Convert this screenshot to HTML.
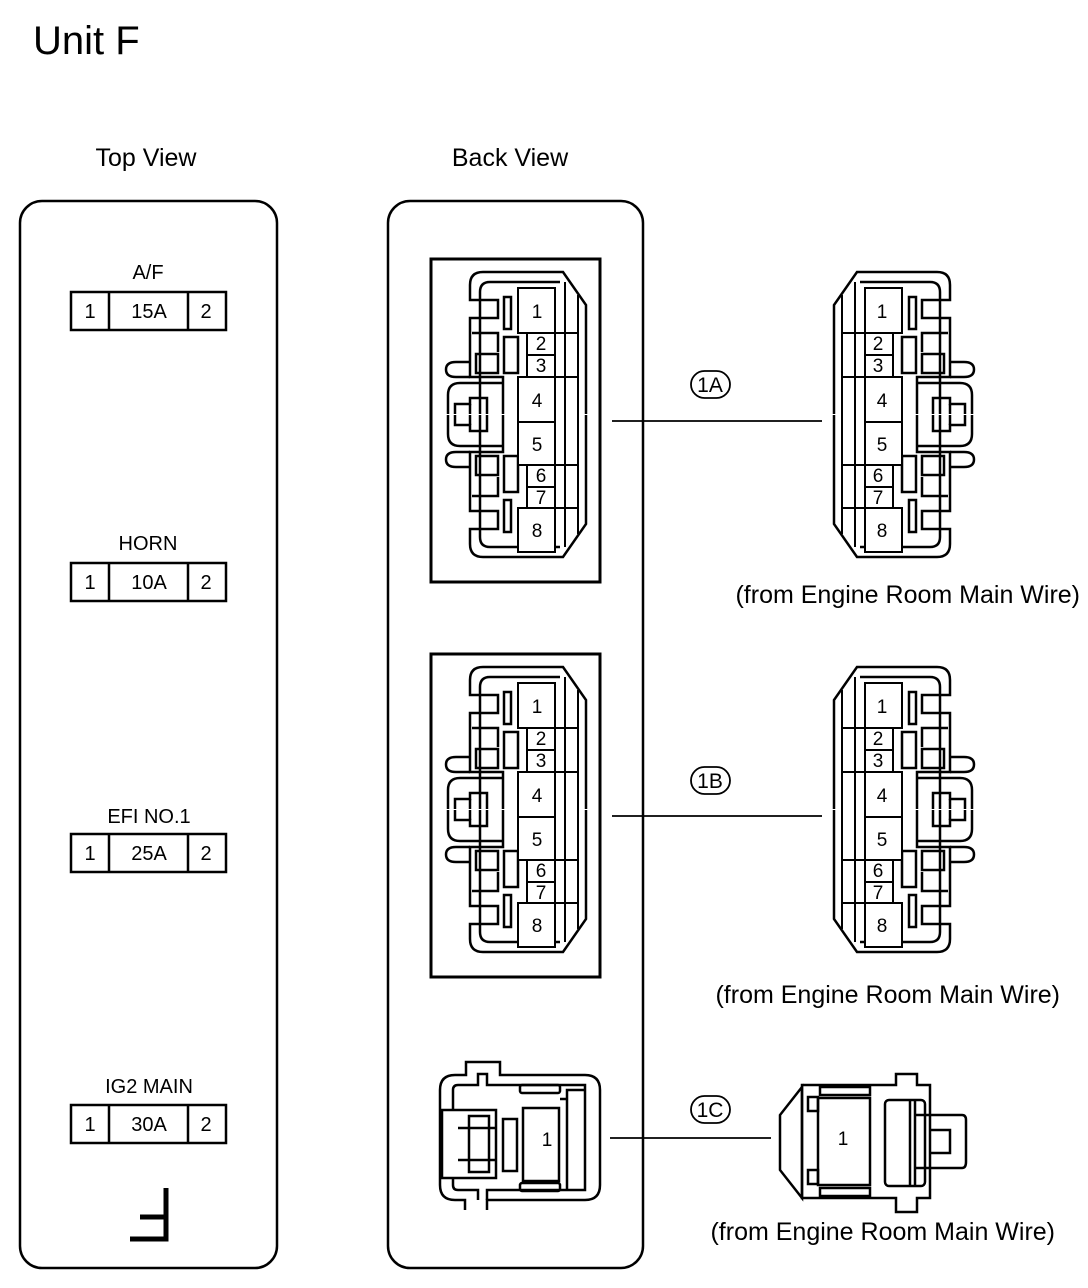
<!DOCTYPE html>
<html><head><meta charset="utf-8"><style>
html,body{margin:0;padding:0;background:#fff}
svg{display:block}
text{font-family:"Liberation Sans",Arial,sans-serif;fill:#000}
</style></head><body>
<svg width="1088" height="1288" viewBox="0 0 1088 1288" xmlns="http://www.w3.org/2000/svg">
<defs>
<g id="half" fill="none" stroke="#000" stroke-width="2.5">
<path d="M503,414 L503,377 L470,377 L470,318 L498,318 L498,300 L470,300 L470,285 Q470,272 483,272 L563,272 L586,305 L586,414"/>
<path d="M480,414 L480,292 Q480,282 490,282 L560,282"/>
<path d="M470,362 L456,362 Q446,362 446,369.5 Q446,377 456,377 L470,377"/>
<rect x="476" y="354" width="22" height="19"/>
<path d="M472,333 L498,333 L498,352"/>
<rect x="504" y="297" width="7" height="32"/>
<rect x="504" y="337" width="14" height="36"/>
<path d="M503,383 L460,383 Q448,383 448,395 L448,414"/>
<path d="M455,414 L455,404 L470,404 L470,398 L487,398 L487,414"/>
<path d="M470,404 L470,414"/>
</g>
<g id="conn">
<use href="#half"/>
<use href="#half" transform="translate(0,829) scale(1,-1)"/>
<g fill="none" stroke="#000" stroke-width="2">
<line x1="565" y1="282" x2="565" y2="547"/>
<line x1="578" y1="295" x2="578" y2="534"/>
<path d="M555,333 L578,333 M555,377 L578,377 M555,465 L578,465 M555,508 L578,508"/>
<rect x="518" y="288" width="37" height="45" fill="#fff"/>
<rect x="527" y="333" width="28" height="22" fill="#fff"/>
<rect x="527" y="355" width="28" height="22" fill="#fff"/>
<rect x="518" y="377" width="37" height="45" fill="#fff"/>
<rect x="518" y="422" width="37" height="43" fill="#fff"/>
<rect x="527" y="465" width="28" height="22" fill="#fff"/>
<rect x="527" y="487" width="28" height="21" fill="#fff"/>
<rect x="518" y="508" width="37" height="44" fill="#fff"/>
</g>
</g>
</defs>

<text x="33" y="54" font-size="40">Unit F</text>
<text x="146" y="166" font-size="25" text-anchor="middle">Top View</text>
<text x="510" y="166" font-size="25" text-anchor="middle">Back View</text>

<rect x="20" y="201" width="257" height="1067" rx="22" fill="none" stroke="#000" stroke-width="2.5"/>
<rect x="388" y="201" width="255" height="1067" rx="22" fill="none" stroke="#000" stroke-width="2.5"/>

<g font-size="20" text-anchor="middle">
<text x="148" y="279">A/F</text>
<text x="148" y="550">HORN</text>
<text x="149" y="823">EFI NO.1</text>
<text x="149" y="1093">IG2 MAIN</text>
</g>
<g fill="none" stroke="#000" stroke-width="2.5">
<rect x="71" y="292" width="155" height="38"/><path d="M109,292V330M188,292V330"/>
<rect x="71" y="563" width="155" height="38"/><path d="M109,563V601M188,563V601"/>
<rect x="71" y="834" width="155" height="38"/><path d="M109,834V872M188,834V872"/>
<rect x="71" y="1105" width="155" height="38"/><path d="M109,1105V1143M188,1105V1143"/>
</g>
<g font-size="20" text-anchor="middle">
<text x="90" y="318">1</text><text x="149" y="318">15A</text><text x="206" y="318">2</text>
<text x="90" y="589">1</text><text x="149" y="589">10A</text><text x="206" y="589">2</text>
<text x="90" y="860">1</text><text x="149" y="860">25A</text><text x="206" y="860">2</text>
<text x="90" y="1131">1</text><text x="149" y="1131">30A</text><text x="206" y="1131">2</text>
</g>
<path d="M166,1188 V1239 H130 M166,1217 H140" fill="none" stroke="#000" stroke-width="5"/>

<!-- 1A -->
<rect x="431" y="259" width="169" height="323" fill="none" stroke="#000" stroke-width="3"/>
<use href="#conn"/>
<use href="#conn" transform="translate(1420,0) scale(-1,1)"/>
<!-- 1B -->
<rect x="431" y="654" width="169" height="323" fill="none" stroke="#000" stroke-width="3"/>
<use href="#conn" transform="translate(0,395)"/>
<use href="#conn" transform="translate(1420,395) scale(-1,1)"/>

<g font-size="19" text-anchor="middle">
<text x="537" y="318">1</text><text x="541" y="350">2</text><text x="541" y="372">3</text>
<text x="537" y="407">4</text><text x="537" y="451">5</text><text x="541" y="482">6</text>
<text x="541" y="504">7</text><text x="537" y="537">8</text>
<text x="882" y="318">1</text><text x="878" y="350">2</text><text x="878" y="372">3</text>
<text x="882" y="407">4</text><text x="882" y="451">5</text><text x="878" y="482">6</text>
<text x="878" y="504">7</text><text x="882" y="537">8</text>
</g>
<g font-size="19" text-anchor="middle" transform="translate(0,395)">
<text x="537" y="318">1</text><text x="541" y="350">2</text><text x="541" y="372">3</text>
<text x="537" y="407">4</text><text x="537" y="451">5</text><text x="541" y="482">6</text>
<text x="541" y="504">7</text><text x="537" y="537">8</text>
<text x="882" y="318">1</text><text x="878" y="350">2</text><text x="878" y="372">3</text>
<text x="882" y="407">4</text><text x="882" y="451">5</text><text x="878" y="482">6</text>
<text x="878" y="504">7</text><text x="882" y="537">8</text>
</g>

<g fill="none" stroke="#000" stroke-width="1.8">
<line x1="612" y1="421" x2="822" y2="421"/>
<line x1="612" y1="816" x2="822" y2="816"/>
<line x1="610" y1="1138" x2="771" y2="1138"/>
<rect x="691" y="371" width="39" height="27" rx="13.5"/>
<rect x="691" y="767" width="39" height="27" rx="13.5"/>
<rect x="691" y="1096" width="39" height="27" rx="13.5"/>
</g>
<g font-size="21" text-anchor="middle">
<text x="710" y="392">1A</text>
<text x="710" y="788">1B</text>
<text x="710" y="1117">1C</text>
</g>

<!-- 1C back -->
<g fill="none" stroke="#000" stroke-width="2.5">
<path d="M465,1210 L465,1200 L455,1200 Q440,1200 440,1185 L440,1090 Q440,1075 455,1075 L466,1075 L466,1062 L500,1062 L500,1075 L585,1075 Q600,1075 600,1090 L600,1185 Q600,1200 585,1200 L487,1200 L487,1210"/>
<path d="M453,1110 V1090 Q453,1085 458,1085 H478 V1074 H487 V1085 H585 V1190 H487 V1200 M478,1200 V1190 H458 Q453,1190 453,1185 V1178"/>
<rect x="442" y="1110" width="54" height="68"/>
<rect x="469" y="1116" width="20" height="56"/>
<path d="M458,1128 H496 M458,1160 H496"/>
<rect x="523" y="1108" width="36" height="73"/>
<rect x="503" y="1119" width="14" height="52"/>
<rect x="520" y="1085" width="40" height="8" rx="2"/>
<rect x="520" y="1183" width="40" height="8" rx="2"/>
<path d="M560,1099 L567,1099 L567,1190 M567,1099 L567,1090 L585,1090"/>
</g>
<text x="547" y="1146" font-size="19" text-anchor="middle">1</text>

<!-- 1C side -->
<g fill="none" stroke="#000" stroke-width="2.5">
<path d="M802,1087 L780,1115 L780,1170 L802,1198 Z"/>
<path d="M802,1085 L896,1085 L896,1074 L917,1074 L917,1085 L930,1085 L930,1198 L917,1198 L917,1212 L896,1212 L896,1198 L802,1198 Z"/>
<rect x="818" y="1098" width="52" height="87"/>
<rect x="808" y="1097" width="10" height="14"/>
<rect x="808" y="1170" width="10" height="14"/>
<rect x="820" y="1087" width="50" height="8"/>
<rect x="820" y="1188" width="50" height="8"/>
<rect x="885" y="1100" width="40" height="86" rx="4"/>
<path d="M910,1100 V1186 M915,1100 V1186 M915,1115 L962,1115 Q966,1115 966,1120 L966,1162 Q966,1168 962,1168 L915,1168 M930,1130 L950,1130 L950,1153 L930,1153"/>
</g>
<text x="843" y="1145" font-size="19" text-anchor="middle">1</text>

<g font-size="25">
<text x="1080" y="603" text-anchor="end">(from Engine Room Main Wire)</text>
<text x="1060" y="1003" text-anchor="end">(from Engine Room Main Wire)</text>
<text x="1055" y="1240" text-anchor="end">(from Engine Room Main Wire)</text>
</g>
</svg>
</body></html>
